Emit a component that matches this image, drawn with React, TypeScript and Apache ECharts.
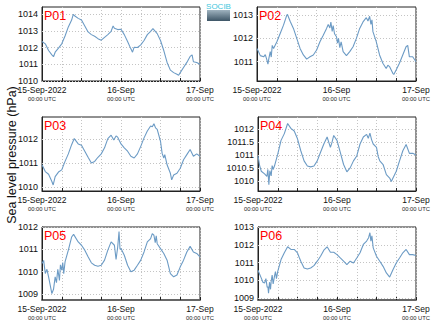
import React, { useEffect, useRef } from "react";
import * as echarts from "echarts";

const DATE_LABELS = ["15-Sep-2022", "16-Sep", "17-Sep"];
const TIME_LABEL = "00:00 UTC";
const PANEL_NAMES = ["P01", "P02", "P03", "P04", "P05", "P06"];
const Y_TITLE = "Sea level pressure (hPa)";

const P01: [number, number][] = [[0,1012.36],[1,1012.22],[2,1011.82],[3,1011.56],[3.5,1011.45],[4,1011.72],[5,1011.96],[6,1012.22],[7,1012.69],[8,1013.23],[9,1013.64],[9.5,1013.98],[10,1013.88],[11,1013.74],[12,1013.64],[13,1013.29],[14,1012.93],[15,1012.77],[16,1012.67],[17,1012.53],[18,1012.44],[19,1012.61],[20,1012.77],[21,1012.97],[21.6,1013.29],[22,1013.15],[23,1013.07],[24,1013.09],[25,1012.77],[26,1012.36],[27,1011.92],[27.5,1011.72],[28,1012.02],[29,1012.0],[30,1012.16],[31,1012.42],[32,1012.77],[33,1012.97],[33.7,1013.13],[35,1012.83],[36,1012.42],[37,1011.82],[38,1011.11],[39,1010.65],[40,1010.5],[41,1010.4],[41.5,1010.34],[42,1010.5],[43,1010.81],[44,1011.11],[45,1011.47],[45.6,1011.56],[46,1011.15],[47,1011.11],[48,1011.0]];
const P02: [number, number][] = [[0,1011.57],[1,1011.26],[2,1011.21],[2.5,1011.3],[3,1011.07],[3.3,1010.89],[3.6,1011.15],[4,1011.43],[4.3,1011.2],[4.6,1011.7],[5,1011.57],[6,1011.86],[7,1012.21],[8,1012.57],[9,1013.0],[9.2,1013.03],[10,1012.74],[11,1012.43],[12,1012.0],[13,1011.57],[14,1011.29],[15,1011.11],[16,1011.21],[17,1011.29],[18,1011.5],[19,1011.86],[20,1012.14],[21,1012.43],[21.5,1012.6],[22,1012.45],[22.3,1012.7],[22.7,1012.3],[23,1012.55],[23.4,1012.2],[24,1012.07],[24.3,1011.8],[24.6,1012.0],[25,1011.6],[25.4,1011.85],[26,1011.43],[27,1011.26],[28,1011.43],[29,1011.64],[30,1012.0],[31,1012.43],[32,1012.71],[33,1012.89],[33.5,1012.75],[34,1012.95],[34.4,1012.6],[34.7,1012.8],[35,1012.29],[36,1011.86],[37,1011.29],[38,1010.93],[39,1010.71],[39.5,1010.85],[40,1010.79],[41,1010.5],[41.3,1010.45],[42,1010.64],[43,1010.93],[44,1011.29],[45,1011.64],[45.5,1011.7],[46,1011.21],[47,1011.21],[48,1011.0]];
const P03: [number, number][] = [[0,1010.93],[1,1010.65],[2,1010.54],[3,1010.24],[3.4,1010.1],[4,1010.44],[5,1010.63],[6,1010.72],[7,1011.07],[8,1011.38],[9,1011.76],[9.8,1012.01],[11,1011.79],[12,1011.74],[13,1011.49],[14,1011.24],[15,1011.0],[16,1011.07],[17,1011.24],[18,1011.38],[19,1011.63],[20,1012.01],[21,1012.15],[21.8,1011.95],[22.5,1012.12],[23,1012.07],[24,1011.79],[25,1011.63],[26,1011.49],[27,1011.28],[28,1011.21],[29,1011.38],[30,1011.69],[31,1012.04],[32,1012.32],[33,1012.53],[33.5,1012.5],[34,1012.62],[34.5,1012.45],[35,1012.39],[36,1011.9],[36.5,1011.4],[37,1011.21],[37.3,1011.35],[38,1010.93],[39,1010.58],[39.4,1010.31],[40,1010.51],[41,1010.58],[42,1010.79],[43,1011.14],[44,1011.35],[45,1011.56],[46,1011.28],[47,1011.38],[48,1011.28]];
const P04: [number, number][] = [[0,1010.97],[0.5,1010.6],[1,1010.38],[2,1010.28],[2.7,1010.18],[3,1010.45],[3.3,1009.86],[3.6,1010.4],[4,1010.2],[4.3,1010.6],[4.6,1010.45],[5,1010.58],[6,1011.04],[7,1011.57],[8,1011.83],[9,1012.22],[10,1012.03],[11,1011.93],[12,1011.63],[13,1011.17],[14,1010.78],[15,1010.58],[16,1010.55],[17,1010.58],[18,1010.78],[19,1011.11],[20,1011.43],[21,1011.7],[22,1011.3],[22.5,1011.5],[23,1011.76],[24,1011.57],[25,1011.11],[26,1010.64],[27,1010.36],[28,1010.51],[29,1010.78],[30,1010.97],[31,1011.43],[32,1011.7],[33,1011.8],[33.5,1011.65],[34,1011.85],[34.5,1011.6],[35,1011.43],[36,1011.3],[36.5,1010.95],[37,1010.78],[38,1010.64],[39,1010.25],[40,1010.12],[40.5,1009.99],[42,1010.38],[43,1010.78],[44,1011.17],[45,1011.41],[46,1011.07],[47,1011.07],[48,1011.01]];
const P05: [number, number][] = [[0,1010.36],[0.5,1010.5],[1,1009.91],[1.5,1010.1],[2,1009.76],[3,1009.01],[3.5,1009.2],[4,1009.76],[4.4,1009.5],[4.8,1010.1],[5,1009.91],[5.3,1009.6],[5.6,1010.3],[6,1010.06],[6.3,1010.4],[6.6,1009.9],[7,1010.43],[8,1010.96],[9,1011.55],[9.6,1011.67],[11,1011.33],[12,1011.18],[13,1010.96],[14,1010.66],[15,1010.39],[16,1010.28],[17,1010.24],[18,1010.28],[19,1010.51],[20,1010.96],[21,1011.33],[22,1011.18],[22.5,1010.54],[23,1011.1],[23.4,1011.8],[23.7,1011.0],[24,1011.03],[25,1010.73],[26,1010.28],[27,1009.99],[28,1010.06],[29,1010.28],[30,1010.51],[31,1010.88],[32,1011.33],[33,1011.48],[33.5,1011.7],[34,1011.63],[34.4,1011.3],[34.7,1011.6],[35,1011.25],[36,1011.03],[37,1010.81],[38,1010.51],[39,1009.91],[40,1009.76],[41,1009.84],[42,1010.21],[43,1010.51],[44,1010.88],[45,1011.13],[46,1010.88],[47,1010.81],[48,1010.66]];
const P06: [number, number][] = [[0,1010.57],[1,1010.13],[1.5,1009.9],[2,1009.85],[2.4,1010.1],[2.8,1009.6],[3,1009.66],[3.2,1009.28],[3.5,1009.9],[3.8,1009.5],[4,1009.94],[4.3,1010.3],[4.6,1009.8],[5,1010.23],[5.3,1010.5],[5.6,1010.1],[6,1010.51],[7,1011.17],[8,1011.55],[9,1011.89],[10,1011.74],[11,1011.74],[12,1011.55],[12.5,1011.3],[13,1011.08],[14,1010.7],[15,1010.64],[16,1010.7],[17,1010.83],[18,1011.08],[19,1011.36],[20,1011.7],[21,1011.89],[22,1011.58],[23,1011.58],[24,1011.45],[25,1011.26],[26,1011.08],[27,1010.89],[28,1011.08],[29,1010.98],[30,1011.26],[31,1011.55],[32,1012.02],[33,1012.21],[33.6,1012.4],[34,1012.68],[34.3,1012.2],[34.6,1012.5],[35,1011.83],[36,1011.36],[37,1011.08],[38,1010.79],[39,1010.42],[40,1010.19],[41,1010.6],[42,1010.98],[43,1011.26],[44,1011.55],[45,1011.74],[46,1011.45],[47,1011.45],[48,1011.4]];

const SERIES = [P01, P02, P03, P04, P05, P06];
const Y_MIN = [1010, 1010.17, 1009.85, 1009.62, 1008.72, 1008.9];
const Y_MAX = [1014.42, 1013.35, 1012.9, 1012.47, 1012, 1013];
const Y_TICKS = [
  [1010, 1011, 1012, 1013, 1014],
  [1011, 1012, 1013],
  [1010, 1011, 1012],
  [1010, 1010.5, 1011, 1011.5, 1012],
  [1009, 1010, 1011, 1012],
  [1009, 1010, 1011, 1012, 1013],
];

const GRIDS = [
  { left: 42, top: 7, width: 158, height: 74 },
  { left: 257, top: 7, width: 159, height: 74 },
  { left: 42, top: 117, width: 158, height: 74 },
  { left: 258, top: 117, width: 158, height: 74 },
  { left: 42, top: 227, width: 158, height: 73 },
  { left: 258, top: 227, width: 158, height: 73 },
];

const FONT = "Liberation Sans";
const GRID_LINE = { color: "#c4c4c4", type: [1, 2], width: 1 };

export default function App() {
  const ref = useRef<HTMLDivElement>(null);
  useEffect(() => {
    if (!ref.current) return;
    const chart = echarts.init(ref.current, undefined, { renderer: "svg" });
    const grid = GRIDS.map((g) => ({
      ...g,
      show: true,
      borderColor: "#222",
      borderWidth: 1,
      containLabel: false,
      outerBoundsMode: "none",
    }));
    const xAxis = GRIDS.map((_, i) => ({
      type: "value",
      gridIndex: i,
      min: 0,
      max: 48,
      interval: 6,
      axisLine: { show: true, lineStyle: { color: i >= 4 ? "#666" : "#222", width: i >= 4 ? 2 : 1 } },
      axisTick: { show: true, inside: true, length: 3, lineStyle: { color: "#222" } },
      splitLine: { show: true, lineStyle: GRID_LINE },
      axisLabel: {
        showMinLabel: true,
        showMaxLabel: true,
        margin: 3,
        fontFamily: FONT,
        formatter: (v: number) => {
          const k = Math.round(v / 24);
          if (Math.abs(v - k * 24) > 1e-6) return "";
          return "{a|" + DATE_LABELS[k] + "}\n{b|" + TIME_LABEL + "}";
        },
        rich: {
          a: { fontSize: 8.5, color: "#111", lineHeight: 11, fontFamily: FONT },
          b: { fontSize: 5.8, color: "#222", lineHeight: 8, fontFamily: FONT },
        },
      },
    }));
    const yAxis = GRIDS.map((_, i) => ({
      type: "value",
      gridIndex: i,
      min: Y_MIN[i],
      max: Y_MAX[i],
      axisLine: { show: true, lineStyle: { color: "#222" } },
      axisTick: { show: false },
      splitLine: { show: false },
      axisLabel: {
        customValues: Y_TICKS[i],
        fontSize: 9,
        color: "#111",
        margin: 4,
        fontFamily: FONT,
        formatter: (v: number) => String(Math.round(v * 10) / 10),
      },
    }));
    const series = SERIES.map((d, i) => ({
      type: "line",
      xAxisIndex: i,
      yAxisIndex: i,
      data: d,
      showSymbol: false,
      symbol: "none",
      lineStyle: { width: 1.1, color: "#6c9bc5" },
      silent: true,
      z: 3,
      markLine: {
        silent: true,
        z: 1,
        symbol: ["none", "none"],
        label: { show: false },
        lineStyle: GRID_LINE,
        data: Y_TICKS[i].map((v) => ({ yAxis: v })),
      },
    }));
    const graphic: any[] = GRIDS.map((g, i) => ({
      type: "text",
      left: g.left + 2,
      top: g.top + 2,
      style: { text: PANEL_NAMES[i], fill: "#ff0000", font: "12.5px " + FONT },
      z: 10,
    }));
    graphic.push({
      type: "text",
      x: 5,
      y: 155,
      rotation: Math.PI / 2,
      style: {
        text: Y_TITLE,
        fill: "#111",
        font: "12.5px " + FONT,
        align: "center",
        verticalAlign: "top",
      },
    });
    graphic.push({
      type: "rect",
      shape: { x: 207, y: 10, width: 23, height: 11 },
      style: {
        fill: new echarts.graphic.LinearGradient(0, 0, 0, 1, [
          { offset: 0, color: "#9fb3bf" },
          { offset: 1, color: "#3d5566" },
        ]),
      },
    });
    graphic.push({
      type: "text",
      x: 218.5,
      y: 2,
      style: { text: "SOCIB", fill: "#3ec6dc", font: "8px " + FONT, align: "center" },
    });
    chart.setOption({
      animation: false,
      backgroundColor: "#ffffff",
      grid,
      xAxis,
      yAxis,
      series,
      graphic,
    });
    return () => chart.dispose();
  }, []);
  return (
    <div
      ref={ref}
      style={{ position: "fixed", left: 0, top: 0, width: 434, height: 327 }}
    />
  );
}
